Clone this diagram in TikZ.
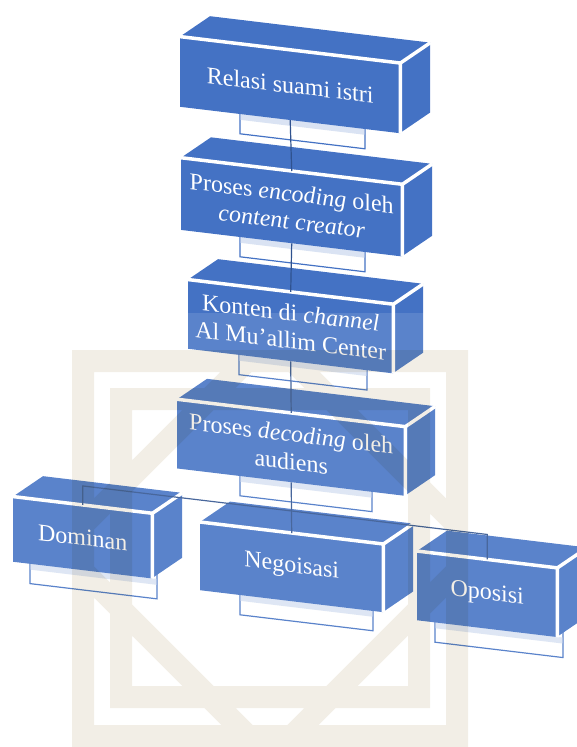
\documentclass[tikz,border=0pt]{standalone}
\usepackage{fontspec}
\setmainfont{Liberation Serif}
\usetikzlibrary{calc}
\definecolor{boxblue}{HTML}{4472C4}
\definecolor{linkblue}{HTML}{2F528F}
\definecolor{tabshade}{HTML}{DAE3F3}
\definecolor{logobeige}{HTML}{F2EEE6}

\begin{document}
\begin{tikzpicture}[
    x=1pt, y=1pt,
    front/.style={fill=boxblue, text=white, align=center, inner sep=0pt,
      font=\fontsize{24}{28}\selectfont, transform shape},
    face/.style={fill=boxblue},
    rim/.style={white, line width=3.5pt},
    tab/.style={fill=white, draw=boxblue, line width=1.2pt},
    link/.style={linkblue, line width=1.2pt},
    logo/.style={draw=logobeige, line width=22pt, blend mode=multiply}
  ]
  \useasboundingbox (0,0) rectangle (577,-747);
  \clip (0,0) rectangle (577,-747);

  \begin{scope}[yslant=-0.12]
    % 3D boxes: name / left / top / width / height / tab left / tab width / text
    \foreach \n/\x/\y/\w/\h/\tl/\tw/\txt in {
        rel/180/-15/220/70/240/125/{Relasi suami istri},
        enc/181/-136/221/72/240/125/{Proses \textit{encoding} oleh\\\textit{content creator}},
        kon/188/-257/205/69/239/128/{Konten di \textit{channel}\\Al Mu’allim Center},
        dec/177/-378/228/69/240/132/{Proses \textit{decoding} oleh\\audiens},
        dom/13/-495/139/65/30/127/{Dominan},
        neg/200/-498/183/68/240/133/{Negoisasi},
        opo/417/-501/140/69/435/128/{Oposisi}} {
      % tab under the front face
      \draw[tab] (\tl,\y-\h+6) -- ++(\tw,0) -- ++(0,-26) -- ++(-\tw,0) -- cycle;
      \fill[tabshade] (\tl+0.6,\y-\h) -- ++(\tw-1.2,0) -- ++(0,-6) -- ++(-\tw+1.2,0) -- cycle;
      % top and side faces
      \fill[face] (\x,\y) -- ++(30,24) -- ++(\w,0) -- ++(-30,-24) -- cycle;
      \fill[face] (\x+\w,\y) -- ++(30,24) -- ++(0,-\h) -- ++(-30,-24) -- cycle;
      % front face
      \node[front, minimum width=\w, minimum height=\h, anchor=north west]
        (\n) at (\x,\y) {\txt};
      \draw[rim] (\n.north west) -- (\n.north east) -- (\n.south east);
      \draw[rim] (\n.north east) -- ++(30,24);
    }

    % Connectors
    \foreach \a/\b in {rel/enc, enc/kon, kon/dec, dec/neg}
      \draw[link] (\a.south) -- (\b.north);
    \draw[link] (dom.north) -- ++(0,19) -- ++(404.5,0) -- (opo.north);
  \end{scope}

  % Watermark
  \fill[white, opacity=0.12] (0,-313) rectangle (577,-747);
  \begin{scope}
    \clip (72,-350) rectangle (468,-747);
    \draw[logo] (83,-361) rectangle (457,-736)
      (121,-399) rectangle (419,-697)
      (270,-338) -- (480,-548) -- (270,-758) -- (60,-548) -- cycle;
  \end{scope}
\end{tikzpicture}
\end{document}
